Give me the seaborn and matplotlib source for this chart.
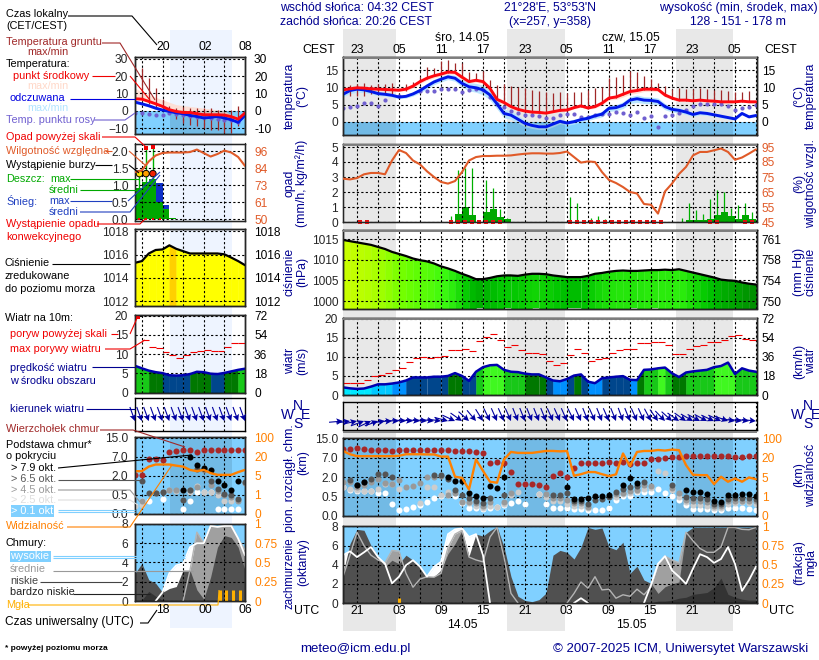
"""
Meteogram (ICM style): 60 h main column plus a 16 h "legend" column on the left.
"""
import numpy as np
import matplotlib
matplotlib.use("Agg")
import matplotlib.pyplot as plt
from matplotlib.colors import LinearSegmentedColormap
from matplotlib.patches import Rectangle
import seaborn as sns

sns.set_style("white")
plt.rcParams["font.family"] = ["Liberation Sans", "DejaVu Sans"]
plt.rcParams["font.size"] = 8.6

NAN = np.nan
NAVY = "#000090"
SKY = "#80d0ff"
ORANGE = "#ff8000"
RH_COL = "#e05a28"
BROWN = "#a02828"
PURPLE = "#7060d0"
FOG = "#ffb000"
GREEN = "#00a800"

# ---- main column, hourly from 19 UTC ----
hours = np.arange(60)

temp_mid = [9.3, 9.6, 9.9, 9.8, 9.6, 9.5, 9.4, 9.3, 9.2, 9.5, 10.4, 11.7, 12.7, 13.4, 13.9, 14.5, 14.4, 13.0, 11.7, 12.1,
            11.7, 9.7, 6.5, 5.6, 4.4, 3.6, 3.1, 2.8, 2.7, 2.5, 2.9, 3.3, 3.4, 4.1, 4.6, 4.0, 4.4, 5.4, 6.9, 7.2,
            8.0, 8.8, 9.1, 9.5, 9.5, 9.4, 7.8, 6.9, 6.3, 6.3, 6.1, 6.3, 6.1, 6.0, 5.8, 5.8, 5.8, 6.0, 5.8, 5.8]
temp_feel = [8.0, 9.1, 9.5, 9.3, 8.8, 8.2, 8.0, 7.7, 7.2, 7.4, 8.1, 9.1, 10.4, 11.6, 12.4, 13.1, 12.7, 11.2, 10.2, 9.9,
             9.3, 7.8, 5.2, 2.4, 1.9, 0.7, -0.5, -1.1, -1.5, -1.5, -0.7, 0.1, -0.4, 0.0, 0.6, 1.0, 1.7, 2.2, 3.9, 4.1,
             4.8, 6.3, 6.7, 6.3, 6.2, 5.9, 4.4, 3.6, 3.3, 2.8, 2.1, 2.6, 2.4, 2.0, 1.6, 1.2, 0.8, 2.4, 1.4, 1.8]
temp_dew = [4.1, 4.3, 4.6, 5.5, 5.4, 4.5, 6.3, NAN, 7.6, NAN, NAN, 9.1, 9.1, 9.1, 9.4, 9.4, 9.6, 8.8, 9.3, 9.6,
            9.3, 7.1, 5.1, 4.2, 3.2, 2.4, 2.0, 1.8, 1.6, 1.2, 1.2, 2.0, 2.1, 2.3, 1.4, 1.5, 1.9, 2.1, 2.3, 2.8,
            2.6, 1.9, 2.8, 1.2, 1.6, -1.7, 1.7, 1.8, 2.6, 3.3, 4.5, 5.1, 5.1, 5.2, 5.1, 4.6, 3.3, 3.9, 4.2, 4.8]
ground_max = [NAN, 10.8, 11.0, 11.2, 10.7, 11.1, 11.0, 11.2, NAN, 10.9, 11.7, 13.0, 16.1, 15.6, 17.8, 18.0, 17.0, 17.0, 14.6, 14.3,
              14.9, 12.2, 10.7, 10.9, 10.4, 10.2, 9.7, 9.3, 9.1, 8.8, 8.3, 8.6, 8.3, 8.8, 8.6, 9.3, 9.7, 10.0, 12.7, 13.0,
              13.6, 14.9, 14.6, 13.4, 12.4, 11.2, 10.5, 9.5, 9.8, 9.6, 9.6, 9.8, 9.6, 9.3, 9.3, 9.1, 8.8, 8.6, 9.0, NAN]
ground_min = [NAN, 7.5, 7.6, 7.6, 8.0, 8.0, 8.2, 8.2, NAN, 9.0, 10.0, 11.5, 12.5, 13.2, 13.8, 14.2, 14.2, 12.8, 11.5, 11.8,
              11.5, 9.5, 6.3, 5.4, 4.2, 3.4, 2.9, 2.6, 2.5, 2.3, 2.7, 3.1, 3.2, 3.9, 4.4, 3.8, 4.2, 5.2, 6.7, 7.0,
              7.8, 8.6, 8.9, 9.3, 9.3, 9.2, 7.6, 6.7, 6.1, 6.1, 5.9, 6.1, 5.9, 5.8, 5.6, 5.6, 5.6, 5.8, 5.6, NAN]
mid_spread = [0.5, 0.5, 0.5, 0.4, 0.4, 0.4, 0.4, 0.4, 0.4, 0.5, 0.5, 0.6, 0.6, 0.6, 0.6, 0.6, 0.6, 0.7, 0.6, 0.6,
              0.6, 0.8, 0.8, 0.6, 0.5, 0.4, 0.4, 0.3, 0.3, 0.3, 0.3, 0.3, 0.3, 0.4, 0.4, 0.4, 0.5, 0.5, 0.6, 0.7,
              0.8, 0.8, 0.8, 0.7, 0.7, 0.6, 0.6, 0.5, 0.4, 0.4, 0.4, 0.4, 0.4, 0.4, 0.3, 0.3, 0.3, 0.3, 0.3, 0.3]
feel_spread = [0.7, 0.9, 0.9, 0.8, 0.7, 0.6, 0.5, 0.5, 0.5, 0.5, 0.6, 0.7, 0.8, 0.8, 0.8, 0.8, 0.9, 1.1, 1.2, 1.3,
               1.4, 1.5, 1.5, 1.3, 1.2, 1.1, 1.0, 0.9, 0.8, 0.8, 0.8, 0.7, 0.7, 0.7, 0.7, 0.7, 0.8, 0.8, 0.9, 0.9,
               1.0, 1.0, 1.1, 1.0, 1.0, 1.0, 0.9, 0.8, 0.7, 0.7, 0.6, 0.6, 0.6, 0.5, 0.5, 0.4, 0.4, 0.3, 0.3, 0.3]

humidity = [73.9, 73.4, 74.3, 76.8, 77.7, 77.7, 76.8, 86.0, 93.0, 91.0, 86.0, 83.4, 78.8, 75.0, 71.7, 70.6, 72.3, 78.3, 86.0, 88.3,
            89.0, 89.0, 89.2, 89.2, 89.4, 90.0, 90.5, 90.8, 90.8, 90.6, 90.6, 91.0, 92.0, 88.3, 84.6, 85.4, 85.0, 78.3, 73.0, 71.0,
            68.3, 65.0, 64.0, 57.0, 56.5, 50.6, 65.4, 70.6, 77.0, 81.7, 89.4, 91.7, 91.7, 92.8, 94.0, 91.7, 86.5, 88.0, 90.6, 93.4]
rain_mean = [0, 0, 0, 0, 0, 0, 0, 0, 0, 0, 0, 0, 0, 0, 0, 0.03, 0.55, 1.0, 0.45, 0.03,
             0.65, 0.9, 0.35, 0.2, 0, 0, 0, 0, 0, 0, 0, 0, 0.02, 0.03, 0.03, 0.02, 0.02, 0.02, 0.02, 0,
             0, 0, 0, 0, 0, 0, 0, 0, 0.03, 0.15, 0.15, 0.15, 0.2, 0.45, 0.7, 0.4, 0.2, 0.5, 0.2, 0]
rain_max = [0, 0, 0, 0, 0, 0, 0, 0, 0, 0, 0, 0, 0, 0, 0, 0.4, 3.5, 3.6, 3.6, 0.05,
            2.8, 2.3, 0.85, 0.3, 0, 0, 0, 0, 0, 0, 0, 0, 1.65, 1.3, 0.15, 0.3, 0.4, 0.2, 0.15, 0,
            0, 0, 0, 0, 0, 0, 0, 0, 0.3, 1.3, 0.8, 0.55, 1.55, 2.15, 2.0, 0.95, 1.15, 1.3, 0.65, 0]
convective = [2, 3, 15, 16, 17, 18, 19, 20, 21, 22, 32, 33, 34, 35, 36, 37, 38, 39, 40, 41, 42, 43, 44, 45, 52, 53, 57, 58]

pressure = [1014.8, 1014.5, 1014.2, 1013.9, 1013.6, 1013.1, 1012.6, 1011.9, 1011.4, 1010.9, 1010.3, 1009.9, 1009.6, 1009.1, 1008.4, 1007.9, 1007.3, 1006.6, 1006.0, 1005.3,
            1005.3, 1005.6, 1006.0, 1006.2, 1006.2, 1006.1, 1006.4, 1006.6, 1006.6, 1006.5, 1006.2, 1006.0, 1005.8, 1005.8, 1005.8, 1006.1, 1006.6, 1006.8, 1007.1, 1007.3,
            1007.4, 1007.3, 1007.3, 1007.4, 1007.5, 1007.5, 1007.6, 1007.5, 1007.7, 1007.3, 1006.9, 1006.5, 1006.1, 1005.7, 1005.2, 1005.0, 1004.9, 1004.5, 1004.2, 1004.0]

wind = [2.0, 1.75, 1.6, 1.7, 2.2, 2.8, 2.8, 3.0, 3.3, 3.8, 4.6, 4.6, 4.6, 4.8, 4.8, 5.0, 5.75, 5.0, 3.7, 6.1,
        7.3, 7.8, 7.9, 6.6, 6.1, 6.0, 5.6, 5.4, 5.4, 4.6, 3.8, 3.6, 4.2, 5.1, 5.4, 3.5, 3.1, 4.4, 4.6, 4.8,
        4.95, 4.0, 3.9, 6.6, 6.7, 7.0, 7.2, 5.7, 4.7, 5.9, 6.2, 6.4, 6.6, 7.3, 7.6, 8.5, 5.5, 7.0, 6.4, 6.1]
gust = [3.2, 3.2, 3.2, 3.9, 5.0, 5.2, 5.9, 6.5, 7.1, 8.6, 9.6, 10.0, 9.6, 9.9, 10.2, 11.8, 11.8, 12.0, 11.5, 14.1,
        15.2, 16.0, 14.5, 12.7, 13.0, 11.8, 11.0, 11.0, 10.7, 8.8, 7.9, 8.3, 10.4, 12.0, 11.0, 9.0, 9.4, 9.6, 10.9, 11.8,
        12.0, 12.0, 13.6, 13.6, 13.9, 13.9, 13.0, 10.7, 10.7, 12.0, 12.8, 13.0, 13.8, 13.8, 14.4, 15.4, 15.7, 14.6, 14.4, NAN]
wind_dir = [265, 262, 258, 250, 245, 250, 262, 268, 272, 275, 275, 276, 276, 277, 278, 285, 295, 305, 312, 320,
            328, 334, 336, 336, 336, 338, 338, 338, 338, 338, 336, 336, 336, 334, 336, 338, 336, 338, 336, 338,
            340, 338, 336, 336, 332, 325, 316, 312, 305, 305, 300, 298, 298, 295, 295, 290, 280, 278, 278, 276]

# cloud base and visibility share one stepped axis: positions 0..4 are the tick rows
cloud_top = [3.48, 3.48, 3.5, 3.48, 3.43, 3.43, 3.43, 3.36, 3.43, 3.41, 3.41, 3.41, 3.4, 3.4, 3.4, 3.4, 3.36, 3.36, 3.35, 3.3,
             3.26, 2.73, 2.78, 2.76, 2.28, 1.65, 1.65, 1.63, 1.6, 1.48, 2.06, 2.2, 2.03, 2.49, 2.75, 2.75, 2.73, 2.75, 2.8, 2.76,
             2.78, 2.71, 2.75, 2.76, 2.92, 2.97, 3.02, 3.05, 3.05, 3.09, 3.09, 3.09, 3.09, 3.1, 3.12, 3.09, 3.05, 3.05, 3.12, 3.09]
base_79 = [NAN, NAN, 1.6, 1.77, NAN, NAN, NAN, NAN, NAN, NAN, NAN, NAN, NAN, NAN, NAN, 2.03, 1.79, 1.79, 1.17, 1.05,
           0.91, 1.55, 1.44, 2.03, NAN, NAN, NAN, NAN, NAN, NAN, NAN, NAN, 1.51, 0.88, 0.88, 0.93, 1.03, 1.05, 1.06, NAN,
           1.6, 1.97, 1.7, NAN, NAN, NAN, NAN, NAN, NAN, 1.34, 1.24, 1.22, 1.12, 0.77, 0.74, 1.08, 1.1, 1.12, 1.13, 1.05]
base_65 = [NAN, 1.85, 1.6, 1.77, 1.89, 2.15, 2.15, 2.03, NAN, NAN, NAN, NAN, NAN, 2.11, 2.11, 1.9, 1.34, 1.08, 0.91, 0.79,
           0.65, 0.91, NAN, 1.08, NAN, NAN, NAN, NAN, NAN, NAN, 1.08, 1.08, 1.17, 0.8, 0.8, 0.62, 0.85, 0.9, 1.0, 1.25,
           1.37, 1.48, 1.55, 1.77, NAN, NAN, NAN, 1.6, NAN, 1.0, 0.91, 0.91, 0.88, 0.6, 0.6, 0.9, 0.95, 0.95, 0.95, 0.9]
base_45 = [1.77, 1.77, 1.51, 1.6, 1.77, 1.89, 1.68, 1.65, 1.85, 1.51, 1.55, 1.68, 2.03, 2.03, 2.06, 1.08, 1.2, 0.72, 0.74, 0.65,
           0.52, 0.74, NAN, 0.74, 1.2, NAN, NAN, NAN, NAN, 1.15, 0.95, 0.95, 0.85, 0.65, 0.65, 0.45, NAN, NAN, NAN, 1.15,
           1.2, 1.3, 1.35, 1.6, 1.55, NAN, NAN, 1.45, 1.2, 0.85, 0.75, 0.75, 0.7, 0.5, 0.5, 0.75, 0.8, 0.8, 0.8, 0.75]
base_25 = [1.48, 1.37, 1.34, 1.29, 1.31, 1.42, 1.65, 1.65, 1.42, NAN, NAN, 0.69, 1.51, 1.51, 1.08, 1.25, 1.2, 0.74, 0.65, 0.51,
           0.39, 0.53, 0.48, 0.62, 1.1, 1.25, NAN, NAN, 1.15, 1.0, 0.8, 0.8, 0.6, 0.5, 0.5, 0.4, NAN, NAN, NAN, 1.0,
           1.15, 1.2, 1.3, 1.4, 1.45, 2.3, 2.2, 1.35, 1.0, 0.7, 0.55, 0.55, 0.5, 0.4, 0.4, 0.6, 0.65, 0.7, 0.65, 0.6]
base_01 = [1.48, 1.34, 1.3, 1.27, 1.27, 1.17, 1.17, 0.6, 0.31, 0.34, 0.45, 0.55, 0.74, 0.91, 1.05, 1.08, 1.05, 0.65, 0.41, 0.41,
           0.34, 0.39, 0.45, 0.55, 0.69, 0.76, 0.64, NAN, 1.12, 0.62, 0.4, 0.4, 0.4, 0.34, 0.34, 0.31, 0.31, 0.31, 0.4, 0.82,
           1.05, 1.05, 1.25, 1.25, 1.25, 1.37, 1.17, 1.05, 0.82, 0.57, 0.34, 0.34, 0.34, 0.31, 0.31, 0.4, 0.4, 0.4, 0.34, 0.31]
visibility = [3.36, 3.19, 3.09, 3.09, 3.09, 3.09, 3.09, 3.09, 3.11, 3.19, 3.19, 3.19, 3.18, 3.18, 3.07, 3.07, 2.03, 1.97, 1.37, 2.92,
              2.33, 1.77, 1.72, 2.92, 3.31, 3.26, 3.26, 3.26, 3.31, 3.36, 3.36, 3.34, 3.36, 2.08, 2.16, 2.27, 2.27, 2.16, 2.06, 2.15,
              3.23, 2.58, 3.31, 3.36, 3.36, 3.41, 3.38, 3.43, 3.4, 2.63, 2.13, 2.11, 2.11, 1.65, 2.03, 1.77, 1.94, 1.77, 1.99, 1.9]

cover_high = [5.0, 5.4, 4.8, 5.3, 5.85, 4.8, 4.1, 2.06, 2.75, 3.95, 4.47, 3.8, 2.75, 3.78, 4.3, 7.2, 7.7, 7.8, 6.9, 7.2,
              5.0, 0, 0, 0, 0, 0, 0, 0, 0, 0, 0, 0, 0, 0, 0.5, 0, 0, 0, 0, 0,
              0, 0, 0, 0, 1.9, 4.1, 4.9, 3.4, 2.75, 2.0, 3.6, 5.1, 4.8, 4.2, 4.6, 5.85, 4.1, 1.27, 2.4, 3.8]
cover_mid = [2.75, 5.0, 7.4, 6.0, 5.0, 4.5, 4.2, 5.5, 5.4, 3.1, 1.65, 2.5, 2.75, 2.7, 3.1, 5.8, 7.2, 7.6, 4.8, 4.5,
             4.3, 6.9, 7.9, 4.8, 1.0, 0, 0, 0, 0, 0, 0, 0, 0, 1.0, 2.2, 1.55, 2.75, 1.37, 1.44, 0.5,
             0.86, 0.7, 1.44, 0.86, 1.7, 4.0, 4.9, 4.5, 4.2, 7.4, 6.5, 5.7, 5.3, 5.3, 5.85, 7.9, 7.9, 7.7, 7.66, 7.9]
cover_low = [3.1, 6.2, 7.7, 7.6, 6.0, 4.8, 3.8, 4.47, 4.1, 5.0, 4.47, 3.8, 2.75, 2.75, 3.44, 5.15, 6.2, 7.56, 4.9, 7.2,
             7.0, 7.56, 8.0, 5.85, 2.75, 0.7, 0.27, 0.14, 0.35, 1.03, 5.0, 5.5, 5.3, 4.6, 5.85, 7.9, 7.7, 7.84, 5.85, 5.57,
             6.36, 3.1, 3.85, 2.4, 2.06, 1.0, 1.7, 2.0, 2.2, 7.4, 7.9, 7.9, 7.9, 7.9, 7.9, 7.9, 7.9, 7.9, 7.9, 8.0]
cover_vlow = [0, 0, 0, 0, 0, 0, 0, 0, 0, 0, 0, 0, 0, 0, 0, 0, 0, 0, 0, 0.1,
              0.12, 0.12, 0.1, 0, 0, 0, 0, 0, 0, 0, 0, 0, 0, 0, 0, 0, 0, 0, 0, 0,
              0, 0, 0, 0, 0, 0.2, 0.2, 0.3, 0.5, 0.6, 0.9, 1.0, 1.1, 1.6, 2.6, 0.9, 0.6, 0.4, 0.3, 0.3]
fog_main = [(8, 0.5)]

# ---- legend column, hourly from 14 UTC ----
lhours = np.arange(17)

l_temp_mid = [6.9, 6.7, 5.4, 4.0, 2.5, 0.6, -0.4, -1.0, -1.0, -1.7, -2.3, -2.3, -2.3, -2.5, -3.4, -4.8, -1.3]
l_temp_hi = [13.0, 11.0, 9.2, 7.8, 6.3, 4.9, 3.5, 3.0, 2.5, 2.0, 1.5, 1.0, 0.6, 0.0, -2.3, -3.5, 0.0]
l_temp_feel = [5.0, 4.0, 2.9, 1.5, 0.4, -0.4, -1.2, -1.7, -2.7, -3.3, -4.2, -3.8, -3.3, -4.2, -5.2, -6.7, -2.7]
l_temp_dew = [-1.3, -1.3, -1.9, -2.5, -2.7, -1.3, -1.7, -2.3, -2.9, -3.7, -3.7, -4.2, -4.6, -5.2, -5.6, -6.2, -1.3]
l_ground_max = [NAN, 24.6, 18.8, 13.0, 6.7, 2.5, 1.5, 1.9, 1.5, 1.5, 1.5, 1.5, 0.6, -1.3, 0.6, 2.5, NAN]
l_ground_min = [NAN, 6.0, 4.0, 2.0, 0.5, -1.5, -5.0, -7.0, -8.0, -8.7, -10.0, -11.0, -11.0, -13.0, -13.0, -9.0, NAN]
l_humidity = [81.9, 83.0, 89.0, 93.0, 94.7, 95.0, 95.0, 95.0, 95.3, 97.0, 94.6, 92.3, 94.0, 96.3, 95.0, 92.0, 86.0]
l_rain = [0.93, 1.1, 1.17, 0.51, 0.32, 0.03, 0, 0, 0, 0, 0, 0, 0, 0, 0, 0, 0]
l_snow = [0, 0, 0, 1.07, 0.42, 0, 0, 0, 0, 0, 0, 0, 0, 0, 0, 0, 0]
l_pressure = [1015.3, 1015.45, 1016.1, 1016.4, 1016.45, 1016.8, 1016.5, 1016.3, 1016.1, 1016.1, 1016.1, 1016.1, 1016.1, 1016.03, 1015.75, 1015.45, 1015.1]
l_wind = [6.95, 6.3, 5.7, 5.3, 5.05, 4.5, 4.4, 4.5, 4.8, 5.4, 5.3, 4.9, 4.8, 5.1, 5.5, 5.9, 6.2]
l_gust = [NAN, 13.7, 11.8, 11.5, 10.6, 9.8, 8.9, 9.9, 10.6, 10.9, 11.0, 10.8, 10.8, 11.8, 12.8, 13.0, NAN]
l_cloud_top = [2.02, 2.02, 2.88, 2.88, 2.83, 3.22, 3.31, 3.36, 3.36, 3.22, 3.36, 3.36, 3.34, 3.34, 3.34, 3.34, 3.34]
l_base_79 = [NAN, NAN, NAN, NAN, NAN, NAN, NAN, 1.28, 3.0, 2.57, 2.41, 2.28, 1.71, 1.5, 1.28, 1.71, NAN]
l_base_65 = [NAN, 1.71, 1.1, 1.1, 1.16, NAN, NAN, 0.72, 1.28, 2.36, 2.36, 1.71, 1.33, 1.07, 0.98, 0.81, 1.7]
l_base_45 = [NAN, 0.69, NAN, 1.1, 1.16, 1.28, 1.28, 1.28, 1.28, 1.41, 2.28, 1.5, 1.2, 1.0, 0.9, 0.7, 1.6]
l_base_25 = [0.41, 0.47, NAN, NAN, NAN, 1.28, 1.19, NAN, 1.16, 1.45, 1.16, 1.16, 0.98, 0.69, 0.69, 0.72, NAN]
l_base_01 = [NAN, 0.69, 0.69, NAN, 0.76, NAN, NAN, 0.24, 0.69, 1.16, 1.14, 1.16, 0.24, 0.24, 0.24, 0.24, NAN]
l_visibility = [2.24, 2.24, 2.48, 2.59, 2.59, 2.59, 2.53, 2.48, 2.31, 2.24, 2.31, 2.14, 2.05, 2.05, 2.05, 2.19, 2.31]
l_cover_high = [0, 0, 0, 0, 0.9, 2.9, 3.7, 3.9, 5.6, 6.0, 6.0, 7.8, 7.7, 7.8, 7.8, 6.5, 4.75]
l_cover_mid = [0, 0, 0, 0, 0, 0, 0, 0, 3.2, 7.15, 6.0, 7.8, 7.7, 7.8, 7.9, 6.5, 5.3]
l_cover_low = [2.87, 3.9, 2.2, 1.85, 0.9, 1.3, 1.5, 3.2, 3.2, 1.16, 0.2, 2.5, 5.6, 6.8, 6.6, 5.6, 3.2]
l_cover_vlow = [0, 0.1, 1.0, 0.5, 0.1, 0, 0, 0, 0, 0, 0, 0, 0, 0, 0, 0, 0]
l_fog = [(12.3, 1.15), (13.3, 1.15), (14.3, 1.15), (15.3, 1.15)]

local_labels = ["23", "05", "11", "17", "23", "05", "11", "17", "23", "05"]
utc_labels = ["21", "03", "09", "15", "21", "03", "09", "15", "21", "03"]

BASE_LEFT = ["0.0", "0.5", "2.0", "7.0", "15.0"]
BASE_RIGHT = ["0", "1", "5", "20", "100"]

W, H = 820, 660
fig = plt.figure(figsize=(W / 100, H / 100), dpi=100, facecolor="white")


def panel(x0, y0, x1, y1, xlim, ylim):
    ax = fig.add_axes([x0 / W, 1 - y1 / H, (x1 - x0) / W, (y1 - y0) / H], facecolor="none")
    ax.set_xlim(*xlim)
    ax.set_ylim(*ylim)
    ax.set_xticklabels([])
    # legend column keeps its tick labels further from the frame
    ax.tick_params(length=0, pad=3.5 if x0 > 300 else 5)
    ax.set_axisbelow("line")
    for s in ax.spines.values():
        s.set_color("black")
        s.set_linewidth(1)
    return ax


def grid(ax, xs, yticks):
    ax.set_xticks(xs)
    ax.set_xticklabels([])
    ax.set_yticks(yticks)
    ax.grid(True, color="black", linewidth=0.8, linestyle=(0, (2, 2)))


def twin_pad(ax):
    return 3.5 if ax.get_position().x0 > 0.4 else 6.5


def right_axis(ax, ticks, labels, color="black"):
    tw = ax.twinx()
    tw.set_ylim(ax.get_ylim())
    tw.set_yticks(ticks)
    tw.set_yticklabels(labels, color=color)
    tw.tick_params(length=0, pad=twin_pad(ax))
    tw.grid(False)
    for s in tw.spines.values():
        s.set_linewidth(1)
    return tw


def line(ax, x, y, color, lw, z=2.6):
    sns.lineplot(x=np.asarray(x, dtype=float), y=np.asarray(y, dtype=float), ax=ax, color=color, linewidth=lw,
                 estimator=None, errorbar=None, legend=False, zorder=z)
    ax.set_xlabel("")
    ax.set_ylabel("")


def nonzero_line(ax, x, y, color, lw, z):
    # cloud lines vanish where the layer is absent, they do not run along the floor
    y = np.asarray(y, dtype=float)
    keep = y > 0
    keep[:-1] |= y[1:] > 0
    keep[1:] |= y[:-1] > 0
    idx = np.flatnonzero(keep)
    for run in np.split(idx, np.flatnonzero(np.diff(idx) > 1) + 1):
        if len(run) > 1:
            line(ax, np.asarray(x)[run], y[run], color, lw, z=z)


def dots(ax, x, y, color, size, z=3):
    sns.scatterplot(x=x, y=y, ax=ax, color=color, s=size, linewidth=0, legend=False, zorder=z)
    ax.set_xlabel("")
    ax.set_ylabel("")


def column_fill(ax, x, y, colour_of, floor):
    # filled area under a line, coloured segment by segment from the mean value
    for i in range(len(x) - 1):
        c = colour_of(0.5 * (y[i] + y[i + 1]))
        ax.fill_between(x[i:i + 2], floor, y[i:i + 2], color=c, linewidth=0.3, zorder=1)


press_cmap = LinearSegmentedColormap.from_list("press", [
    (0.0, "#008c00"), (2 / 12.8, "#00c400"), (4 / 12.8, "#38f810"), (7 / 12.8, "#70ff00"),
    (10.8 / 12.8, "#ccff00"), (11.1 / 12.8, "#ffff00"), (1.0, "#ffff00")])


def press_colour(p):
    if p > 1016.63:
        return "#ffd000"
    return press_cmap((p - 1004) / 12.8)


def wind_colour(v):
    stops = [(2, "#00e8ff"), (3, "#00c8ff"), (4, "#0090ff"), (5, "#00468c"), (5.8, "#007800"),
             (7, "#18c818"), (8.2, "#40f820")]
    for limit, c in stops:
        if v < limit:
            return c
    return "#60ff40"


def night_shade(ax, spans, lo=0, hi=1):
    for a, b in spans:
        ax.axvspan(a, b, ymin=lo, ymax=hi, color="black", alpha=0.1, linewidth=0, zorder=1.2)


# background: grey nights behind the main column, pale blue night behind the legend column
bg = fig.add_axes([0, 0, 1, 1], zorder=-1)
bg.set_xlim(0, W)
bg.set_ylim(H, 0)
bg.axis("off")
for a, b in [(343, 396), (507, 565), (676, 733)]:
    bg.add_patch(Rectangle((a, 29), b - a, 602, color="#e8e8e8", linewidth=0))
bg.add_patch(Rectangle((170, 30), 62, 598, color="#eef4ff", linewidth=0))

M_X = (343, 757)
L_X = (135, 245)
M_LIM = (0, 414 / 7)
L_LIM = (0, 16)
M_GRID = np.arange(2, 60, 3)
L_GRID = np.arange(1, 16, 3)
M_NIGHT = [(0, 7.57), (23.43, 31.7), (47.57, 55.7)]
L_NIGHT = [(5.1, 14.1)]


def draw_temp(ax, x, mid, feel, dew, gmin, gmax, hi_band, lo_band, ticks, nights):
    grid(ax, M_GRID if len(x) == 60 else L_GRID, ticks)
    ylo, yhi = ax.get_ylim()
    ax.axhspan(ylo, 0, color=SKY, linewidth=0, zorder=0.8)
    night_shade(ax, nights, 0, (0 - ylo) / (yhi - ylo))
    ax.fill_between(x, hi_band[0], hi_band[1], color="#ffdccf", alpha=0.85, linewidth=0, zorder=1)
    ax.fill_between(x, lo_band[0], lo_band[1], color="#b4e4ff", alpha=0.9, linewidth=0, zorder=1.1)
    ax.vlines(x, gmin, gmax, color=BROWN, linewidth=0.9, zorder=2.4)
    dots(ax, x, dew, PURPLE, 9, z=2.5)
    line(ax, x, feel, "#0018e8", 2.1)
    line(ax, x, mid, "#ff0810", 2.1, z=2.7)


# ---------- temperature ----------
ax = panel(M_X[0], 57, M_X[1], 135, M_LIM, (-3.9, 18.9))
mid = np.array(temp_mid)
feel = np.array(temp_feel)
draw_temp(ax, hours, mid, feel, temp_dew, ground_min, ground_max,
          (mid - np.array(mid_spread), mid + np.array(mid_spread)),
          (feel - np.array(feel_spread), feel + np.array(feel_spread)), [0, 5, 10, 15], M_NIGHT)
right_axis(ax, [0, 5, 10, 15], ["0", "5", "10", "15"])

ax = panel(L_X[0], 57, L_X[1], 134, L_LIM, (-13.4, 31))
l_feel = np.array(l_temp_feel)
draw_temp(ax, lhours, l_temp_mid, l_temp_feel, l_temp_dew, l_ground_min, l_ground_max,
          (l_temp_mid, l_temp_hi), (l_feel - 0.8, l_feel + 0.8), [-10, 0, 10, 20, 30], L_NIGHT)
right_axis(ax, [-10, 0, 10, 20, 30], ["-10", "0", "10", "20", "30"])

# ---------- precipitation and humidity ----------
ax = panel(M_X[0], 144, M_X[1], 222, M_LIM, (0, 5.2))
grid(ax, M_GRID, [0, 1, 2, 3, 4, 5])
ax.vlines(hours + 0.5, 0, rain_max, color="#00b000", linewidth=0.9, zorder=1)
ax.bar(hours + 0.5, rain_mean, width=1, color=GREEN, linewidth=0, zorder=1.1)
ax.scatter(np.array(convective) + 0.5, [0.03] * len(convective), marker="s", s=5, color="#e01010", linewidth=0, zorder=4, clip_on=False)
tw = ax.twinx()
tw.set_ylim(45, 97)
tw.set_yticks([45, 55, 65, 75, 85, 95])
tw.tick_params(length=0, pad=3.5, labelcolor=RH_COL)
line(tw, hours, humidity, RH_COL, 1.5)
tw.grid(False)

ax = panel(L_X[0], 143.5, L_X[1], 220.5, L_LIM, (-0.03, 2.22))
grid(ax, L_GRID, [0, 0.5, 1, 1.5, 2])
ax.set_yticklabels(["0.0", "0.5", "1.0", "1.5", "2.0"])
ax.vlines([0.65, 1.6, 2.6], 0, [1.34, 2.1, 2.1], color="#00b000", linewidth=1.0, zorder=1)
ax.bar(lhours + 0.5, l_snow, width=1, color="#1030c8", linewidth=0, zorder=1)
ax.bar(lhours + 0.5, l_rain, width=1, color=GREEN, linewidth=0, zorder=1.1)
ax.scatter([0.65, 1.6, 2.6], [1.34] * 3, s=22, c=["#ffe000", "#ffa000", "#f02000"], edgecolors="black", linewidth=0.7, zorder=4)
ax.scatter([1.6, 2.6], [2.1, 2.12], marker="s", s=8, color="#f00000", linewidth=0, zorder=4)
ax.scatter([0.6, 1.6, 2.6, 3.6], [0.0] * 4, marker="s", s=4, color="#f00000", linewidth=0, zorder=4, clip_on=False)
tw = ax.twinx()
tw.set_ylim(50 - 23 * 0.03, 50 + 23 * 2.22)
tw.set_yticks([50, 61.5, 73, 84.5, 96])
tw.set_yticklabels(["50", "61", "73", "84", "96"])
tw.tick_params(length=0, pad=6.5, labelcolor=RH_COL)
line(tw, lhours, l_humidity, RH_COL, 1.5)
tw.grid(False)

# ---------- pressure ----------
ax = panel(M_X[0], 230, M_X[1], 308.5, M_LIM, (998.2, 1017.2))
grid(ax, M_GRID, [1000, 1005, 1010, 1015])
column_fill(ax, hours, pressure, press_colour, 998.2)
ax.fill_between([59, 60], 998.2, pressure[-1], color=press_colour(pressure[-1]), linewidth=0, zorder=1)
line(ax, hours, pressure, "black", 1.6)
right_axis(ax, [1000, 1005, 1010, 1015], ["750", "754", "758", "761"])

ax = panel(L_X[0], 229, L_X[1], 306, L_LIM, (1011.6, 1018.2))
grid(ax, L_GRID, [1012, 1014, 1016, 1018])
column_fill(ax, lhours, l_pressure, press_colour, 1011.6)
line(ax, lhours, l_pressure, "black", 1.6)
right_axis(ax, [1012, 1014, 1016, 1018], ["1012", "1014", "1016", "1018"])

# ---------- wind ----------
ax = panel(M_X[0], 318, M_X[1], 395, M_LIM, (0, 20.2))
grid(ax, M_GRID, [0, 5, 10, 15, 20])
column_fill(ax, hours, wind, wind_colour, 0)
ax.fill_between([59, 60], 0, wind[-1], color=wind_colour(wind[-1]), linewidth=0, zorder=1)
ax.hlines(gust, hours, hours + 1, color="#f00000", linewidth=0.8, zorder=3)
line(ax, hours, wind, "#0000b0", 1.8)
right_axis(ax, [0, 5, 10, 15, 20], ["0", "18", "36", "54", "72"])

ax = panel(L_X[0], 315, L_X[1], 392.5, L_LIM, (0, 20.2))
grid(ax, L_GRID, [0, 5, 10, 15, 20])
column_fill(ax, lhours, l_wind, wind_colour, 0)
ax.hlines(l_gust, lhours, lhours + 1, color="#f00000", linewidth=0.8, zorder=3)
ax.scatter([0.45], [19.6], marker="s", s=7, color="#f00000", linewidth=0, zorder=4)
line(ax, lhours, l_wind, "#0000b0", 1.8)
right_axis(ax, [0, 5, 10, 15, 20], ["0", "18", "36", "54", "72"])


# ---------- wind direction ----------
def arrows(ax, x, directions, length, row):
    rad = np.radians(directions)
    ax.quiver(x, np.full(len(x), row), -np.sin(rad), -np.cos(rad), angles="uv", pivot="tip", units="dots",
              scale_units="dots", scale=1 / length, width=1.1, headwidth=6, headlength=6, headaxislength=5,
              color="#0000a0", zorder=3, clip_on=False)


ax = panel(M_X[0], 402, M_X[1], 430, M_LIM, (0, 1))
grid(ax, M_GRID, [])
arrows(ax, hours, wind_dir, 14, 0.32)

ax = panel(L_X[0], 398, L_X[1], 431, L_LIM, (0, 1))
grid(ax, L_GRID, [])
arrows(ax, lhours, [340] * 17, 15, 0.3)


# ---------- cloud base, cloud top, visibility ----------
def draw_base(ax, x, top, b79, b65, b45, b25, b01, vis, xs, nights):
    grid(ax, xs, [0, 1, 2, 3, 4])
    ax.set_yticklabels(BASE_LEFT)
    ax.axhspan(0, 4.03, color=SKY, linewidth=0, zorder=0.8)
    night_shade(ax, nights)
    for series, colour in [(b01, "white"), (b25, "#cccccc"), (b45, "#999999"), (b65, "#555555"), (b79, "black")]:
        dots(ax, x, series, colour, 19, z=3)
    dots(ax, x, top, "#a82828", 19, z=3.1)
    line(ax, x, vis, ORANGE, 1.7, z=3.2)
    right_axis(ax, [0, 1, 2, 3, 4], BASE_RIGHT, ORANGE)


ax = panel(M_X[0], 438, M_X[1], 516, M_LIM, (0, 4.03))
draw_base(ax, hours, cloud_top, base_79, base_65, base_45, base_25, base_01, visibility, M_GRID, M_NIGHT)
ax = panel(L_X[0], 437, L_X[1], 514, L_LIM, (0, 4.03))
draw_base(ax, lhours, l_cloud_top, l_base_79, l_base_65, l_base_45, l_base_25, l_base_01, l_visibility, L_GRID, L_NIGHT)


# ---------- cloud cover ----------
def draw_cover(ax, x, high, mid, low, vlow, fog, xs):
    grid(ax, xs, [0, 2, 4, 6, 8])
    ax.axhspan(0, 8.05, color=SKY, linewidth=0, zorder=0.8)
    ax.fill_between(x, 0, high, color="white", linewidth=0, zorder=1)
    ax.fill_between(x, 0, mid, color="#a0a0a0", linewidth=0, zorder=1.1)
    ax.fill_between(x, 0, low, color="#505050", linewidth=0, zorder=1.2)
    ax.fill_between(x, 0, vlow, color="#333333", linewidth=0, zorder=1.3)
    nonzero_line(ax, x, mid, "#b4b4b4", 1.0, 2.6)
    nonzero_line(ax, x, high, "white", 1.3, 2.7)
    for at, height in fog:
        ax.vlines(at, 0, height, color=FOG, linewidth=2.2, zorder=3)
    right_axis(ax, [0, 2, 4, 6, 8], ["0", "0.25", "0.5", "0.75", "1"], ORANGE)


ax = panel(M_X[0], 526, M_X[1], 603, M_LIM, (0, 8.05))
draw_cover(ax, hours, cover_high, cover_mid, cover_low, cover_vlow, fog_main, M_GRID)
ax = panel(L_X[0], 523.5, L_X[1], 601, L_LIM, (0, 8.05))
draw_cover(ax, lhours, l_cover_high, l_cover_mid, l_cover_low, l_cover_vlow, l_fog, L_GRID)

# ---------- overlay: all labels and leader lines in pixel coordinates ----------
ov = fig.add_axes([0, 0, 1, 1], zorder=20, facecolor="none")
ov.set_xlim(0, W)
ov.set_ylim(H, 0)
ov.axis("off")


def txt(x, y, s, color="black", ha="left", **kw):
    ov.text(x, y, s, color=color, ha=ha, va="center", **kw)


def leader(points, color, lw=0.8):
    ov.plot([p[0] for p in points], [p[1] for p in points], color=color, linewidth=lw, solid_capstyle="butt")


# grey shadow lines over the main panels
for y in [57, 144, 230, 318, 431]:
    leader([(343, y + 1), (757, y + 1)], "#808080", 1.4)

# header
HEAD = 8.85
txt(280, 8, "wschód słońca: 04:32 CEST", NAVY, fontsize=HEAD)
txt(280, 22, "zachód słońca: 20:26 CEST", NAVY, fontsize=HEAD)
txt(550, 8, "21°28'E, 53°53'N", NAVY, ha="center", fontsize=HEAD)
txt(550, 22, "(x=257, y=358)", NAVY, ha="center", fontsize=HEAD)
txt(818, 8, "wysokość (min, środek, max)", NAVY, ha="right", fontsize=HEAD)
txt(738, 22, "128 - 151 - 178 m", NAVY, ha="center", fontsize=HEAD)
txt(462, 37, "śro, 14.05", ha="center", fontsize=HEAD)
txt(631, 37, "czw, 15.05", ha="center", fontsize=HEAD)
txt(319, 50, "CEST", ha="center", fontsize=HEAD)
txt(781, 50, "CEST", ha="center", fontsize=HEAD)
txt(307, 611, "UTC", ha="center", fontsize=HEAD)
txt(782, 611, "UTC", ha="center", fontsize=HEAD)
for i in range(10):
    px = 357 + 42 * i - (1 if i > 4 else 0)
    txt(px, 50, local_labels[i], ha="center", fontsize=HEAD)
    txt(px, 611, utc_labels[i], ha="center", fontsize=HEAD)
txt(462, 625, "14.05", ha="center", fontsize=HEAD)
txt(631, 625, "15.05", ha="center", fontsize=HEAD)
txt(355, 649, "meteo@icm.edu.pl", NAVY, ha="center", fontsize=9.5)
txt(553, 649, "© 2007-2025 ICM, Uniwersytet Warszawski", NAVY, fontsize=9.5)
txt(5, 648, "* powyżej poziomu morza", fontsize=6.0, fontweight="bold")
for px, top, bottom in [(163, "20", "18"), (205, "02", "00"), (245, "08", "06")]:
    txt(px, 47, top, ha="center", fontsize=HEAD)
    txt(px, 610, bottom, ha="center", fontsize=HEAD)
txt(5, 622, "Czas uniwersalny (UTC)")

# rotated axis titles
for px, py, s in [(296, 96, "temperatura\n(°C)"), (296, 183, "opad\n(mm/h, kg/m²/h)"), (296, 272, "ciśnienie\n(hPa)"),
                  (296, 361, "wiatr\n(m/s)"),
                  (805, 96, "(°C)\ntemperatura"), (805, 183, "(%)\nwilgotność wzgl."), (805, 272, "(mm Hg)\nciśnienie"),
                  (805, 361, "(km/h)\nwiatr"), (805, 475, "(km)\nwidzialność"), (805, 563, "(frakcja)\nmgła")]:
    ov.text(px, py, s, color=NAVY, rotation=90, ha="center", va="center", linespacing=1.0,
            multialignment="center", fontsize=HEAD)
for px, py, s, size in [(290, 478, "pion. rozciągł. chm.", 9.0), (303, 463, "(km)", HEAD),
                        (290, 573, "zachmurzenie", 8.3), (303, 562, "(oktanty)", HEAD)]:
    ov.text(px, py, s, color=NAVY, rotation=90, ha="center", va="center", fontsize=size)

# compass marks
for x0 in (288, 798):
    txt(x0, 415, "W", NAVY, ha="center", fontsize=10)
    txt(x0 + 10, 406, "N", NAVY, ha="center", fontsize=10)
    txt(x0 + 10, 424, "S", NAVY, ha="center", fontsize=10)
    txt(x0 + 18, 415, "E", NAVY, ha="center", fontsize=10)

# legend column labels
LAB = 7.85
for x0, y0, s, c in [
    (6, 14, "Czas lokalny", "black"), (6, 26, "(CET/CEST)", "black"), (6, 42, "Temperatura gruntu", BROWN),
    (27, 52, "max/min", BROWN), (6, 64, "Temperatura:", "black"), (13, 76, "punkt środkowy", "#f00000"),
    (27, 86, "max/min", "#ffd8c8"), (10, 98, "odczuwana", "#0000e0"), (27, 108, "max/min", "#b0e4ff"),
    (6, 120, "Temp. punktu rosy", PURPLE), (6, 137, "Opad powyżej skali", "#f00000"),
    (6, 151, "Wilgotność względna", RH_COL), (6, 165, "Wystąpienie burzy", "black"),
    (6, 179, "Deszcz:", GREEN), (50, 179, "max", GREEN), (49, 190, "średni", GREEN),
    (6, 201, "Śnieg:", "#2040c0"), (49, 201, "max", "#2040c0"), (49, 212, "średni", "#2040c0"),
    (6, 224, "Wystąpienie opadu", "#f00000"), (6, 237, "konwekcyjnego", "#f00000"),
    (5, 263, "Ciśnienie", "black"), (5, 276, "zredukowane", "black"), (5, 289, "do poziomu morza", "black"),
    (5, 318, "Wiatr na 10m:", "black"), (10, 334, "poryw powyżej skali", "#f00000"),
    (10, 349, "max porywy wiatru", "#f00000"), (10, 368, "prędkość wiatru", NAVY), (10, 381, "w środku obszaru", NAVY),
    (10, 409, "kierunek wiatru", NAVY), (6, 429, "Wierzchołek chmur", BROWN),
    (6, 445, "Podstawa chmur*", "black"), (6, 456, "o pokryciu", "black"),
    (11, 468, "> 7.9 okt.", "black"), (11, 479, "> 6.5 okt.", "#555555"), (11, 490, "> 4.5 okt.", "#999999"),
    (11, 500, "> 2.5 okt.", "#dddddd"), (6, 526, "Widzialność", ORANGE), (6, 543, "Chmury:", "black"),
    (10, 569, "średnie", "#999999"), (10, 581, "niskie", "#444444"), (10, 592, "bardzo niskie", "#222222"),
    (6, 605, "Mgła", FOG),
]:
    txt(x0, y0, s, c, fontsize=LAB)
ov.add_patch(Rectangle((11, 505), 43, 12, color=SKY, linewidth=0))
txt(11, 511, "> 0.1 okt.", "white", fontsize=LAB)
ov.add_patch(Rectangle((10, 551), 41, 11, color=SKY, linewidth=0))
txt(10, 556, "wysokie", "white", fontsize=LAB)

# leader lines from the labels to the panels
for pts, c in [
    ([(68, 16), (132, 16), (157, 45)], "black"),
    ([(102, 43), (120, 43), (155, 100)], BROWN),
    ([(92, 76), (115, 76)], "#f00000"), ([(130, 76), (150, 100)], "#f00000"),
    ([(70, 99), (135, 99)], "#0000e0"),
    ([(94, 120), (125, 120), (135, 113)], PURPLE),
    ([(102, 137), (135, 137), (146, 147)], "#f00000"),
    ([(105, 151), (112, 151)], RH_COL), ([(129, 151), (145, 165)], RH_COL),
    ([(95, 165), (112, 165)], "black"), ([(129, 165), (139, 173)], "black"),
    ([(70, 179), (139, 179)], GREEN), ([(80, 190), (146, 190)], GREEN),
    ([(70, 201), (112, 201)], "#2040c0"), ([(128, 201), (160, 172)], "#2040c0"),
    ([(80, 212), (130, 212), (160, 175)], "#2040c0"),
    ([(97, 224), (140, 224), (146, 218)], "#f00000"),
    ([(52, 264), (130, 264)], "black"),
    ([(111, 334), (118, 334)], "#f00000"), ([(130, 334), (138, 316)], "#f00000"),
    ([(105, 349), (130, 349), (145, 340)], "#f00000"),
    ([(92, 367), (135, 367)], NAVY), ([(86, 409), (135, 409)], NAVY),
    ([(100, 430), (133, 430), (185, 447)], BROWN),
    ([(58, 468), (192, 455)], "black"), ([(58, 480), (143, 480)], "#555555"),
    ([(58, 490), (130, 490), (140, 502)], "#999999"), ([(58, 500), (130, 500), (138, 505)], "#dddddd"),
    ([(58, 510), (135, 510)], SKY), ([(58, 512), (135, 512)], SKY),
    ([(67, 527), (130, 527), (172, 465)], ORANGE),
    ([(53, 556), (185, 556)], SKY), ([(53, 558), (185, 558)], SKY),
    ([(53, 571), (193, 571)], "#999999"),
    ([(40, 582), (122, 582)], "#444444"),
    ([(73, 594), (150, 594)], "#222222"),
    ([(28, 605), (218, 605), (219, 590)], FOG),
    ([(140, 623), (148, 623), (157, 610)], "black"),
]:
    leader(pts, c)

fig.savefig("out.png", dpi=100, facecolor="white")
